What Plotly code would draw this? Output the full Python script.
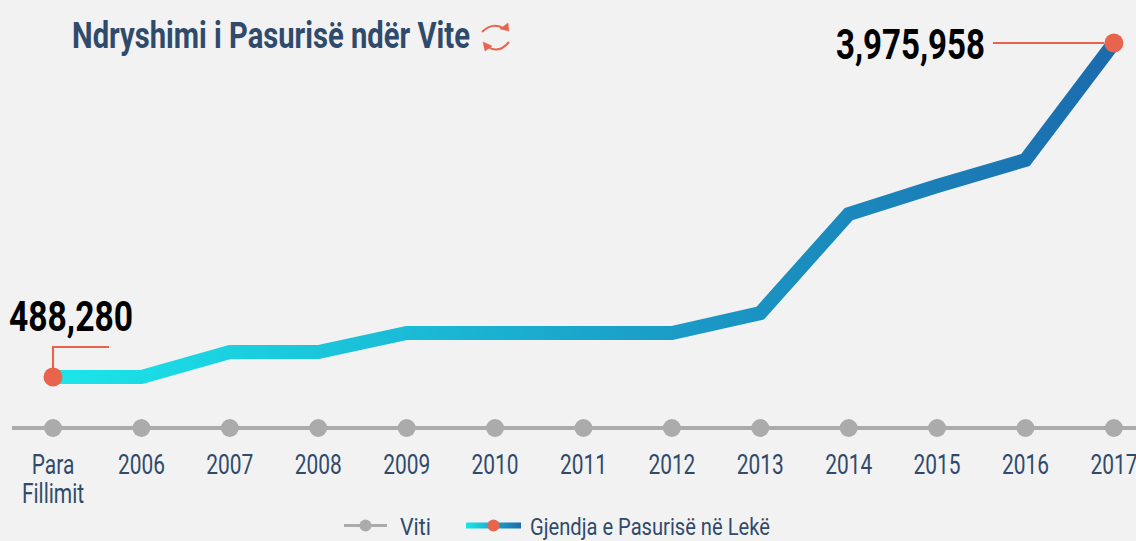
import plotly.graph_objects as go

categories = ["Para<br>Fillimit", "2006", "2007", "2008", "2009", "2010", "2011", "2012", "2013", "2014", "2015", "2016", "2017"]
wealth = [488280, 488280, 749000, 749000, 947700, 947700, 947700, 947700, 1156000, 2190000, 2483000, 2754000, 3975958]
year_line = [0] * len(categories)

W, H = 1136, 541
L, R, T, B = 12, 0, 0, 109
NAVY = "#2F4A6B"
CORAL = "#E8644C"
GREY = "#ABABAB"
BG = "#F2F2F2"
FONT = "Roboto"

def px(x):
    return (x - L) / (W - L - R)

def py(y):
    return 1 - (y - T) / (H - T - B)

idx = list(range(len(categories)))
last = len(categories) - 1

fig = go.Figure()
fig.add_trace(go.Scatter(
    x=idx, y=year_line, yaxis="y2", name="Viti", mode="lines+markers", cliponaxis=False,
    line=dict(color=GREY, width=3), marker=dict(color=GREY, size=18),
))
fig.add_trace(go.Scatter(
    x=idx, y=wealth, name="Gjendja e Pasurisë në Lekë", mode="lines+markers", cliponaxis=False,
    line=dict(color="#1A9CC6", width=14),
    marker=dict(color=[CORAL if i in (0, last) else "rgba(0,0,0,0)" for i in idx],
                size=[19 if i in (0, last) else 0 for i in idx], opacity=1, line=dict(width=0)),
))

def p(x, y):
    return f"{px(x):.5f},{py(y):.5f}"

def leader(path):
    return dict(type="path", xref="paper", yref="paper", path=path, line=dict(color=CORAL, width=2.2), layer="below")

def arrow(path):
    return dict(type="path", xref="paper", yref="paper", path=path, line=dict(color=CORAL, width=2), layer="above")

def head(a, b, c):
    return dict(type="path", xref="paper", yref="paper", path=f"M{p(*a)} L{p(*b)} L{p(*c)} Z",
                fillcolor=CORAL, line=dict(color=CORAL, width=0.5), layer="above")

shapes = [
    leader(f"M{p(53,368)} L{p(53,347)} L{p(109,347)}"),
    leader(f"M{p(993,43)} L{p(1104,43)}"),
    arrow(f"M{p(482,32)} Q{p(492,22)} {p(503,28)}"),
    head((508, 23), (509, 31), (500, 29)),
    arrow(f"M{p(509,42)} Q{p(499,54)} {p(488,47)}"),
    head((483, 42), (485, 51), (492, 46)),
]

annotations = [
    dict(text="<b>Ndryshimi i Pasurisë ndër Vite</b>", xref="paper", yref="paper", x=px(70), y=py(36),
         xanchor="left", yanchor="middle", showarrow=False, font=dict(family=FONT, size=36, color=NAVY)),
    dict(text=f"<b>{wealth[0]:,}</b>", xref="paper", yref="paper", x=px(7), y=py(316),
         xanchor="left", yanchor="middle", showarrow=False, font=dict(family=FONT, size=42, color="#000000")),
    dict(text=f"<b>{wealth[-1]:,}</b>", xref="paper", yref="paper", x=px(834), y=py(45),
         xanchor="left", yanchor="middle", showarrow=False, font=dict(family=FONT, size=42, color="#000000")),
]

fig.update_layout(
    width=W, height=H, margin=dict(l=L, r=R, t=T, b=B, autoexpand=False),
    paper_bgcolor=BG, plot_bgcolor=BG, font=dict(family=FONT, color=NAVY),
    xaxis=dict(type="linear", range=[-0.464, 12.25], tickmode="array", tickvals=idx, ticktext=categories,
               showgrid=False, zeroline=False, showline=False,
               tickfont=dict(family=FONT, size=27, color=NAVY), ticks="", ticklabelstandoff=14,
               ticklabeloverflow="allow"),
    yaxis=dict(range=[-86030, 4424914], visible=False, showgrid=False, zeroline=False),
    yaxis2=dict(range=[-0.00935, 1], overlaying="y", showticklabels=False, ticks="", showgrid=False,
                showline=False, zeroline=True, zerolinecolor=GREY, zerolinewidth=4),
    legend=dict(orientation="h", x=px(558), xanchor="center", y=py(526), yanchor="middle",
                font=dict(family=FONT, size=24, color=NAVY), itemwidth=50, itemclick=False,
                itemsizing="constant", bgcolor="rgba(0,0,0,0)"),
    shapes=shapes, annotations=annotations, hovermode=False,
)

post = """
document.body.style.margin='0';
var gd=document.getElementById('{plot_id}');
var svg=gd.querySelector('.main-svg');
var NS='http://www.w3.org/2000/svg';
function grad(id,x1,x2){
  var g=document.createElementNS(NS,'linearGradient');
  g.setAttribute('id',id);g.setAttribute('gradientUnits','userSpaceOnUse');
  g.setAttribute('x1',x1);g.setAttribute('x2',x2);g.setAttribute('y1',0);g.setAttribute('y2',0);
  [['0','#1BE6EA'],['0.5','#1AA6CC'],['1','#1B6BAD']].forEach(function(s){
    var st=document.createElementNS(NS,'stop');st.setAttribute('offset',s[0]);st.setAttribute('stop-color',s[1]);g.appendChild(st);
  });
  svg.querySelector('defs').appendChild(g);
}
function squeeze(el,sx,mode){
  var b=el.getBBox();
  var c=mode==='c'?b.x+b.width/2:b.x;
  var t=el.getAttribute('transform')||'';
  el.setAttribute('transform',t+' translate('+c+',0) scale('+sx+',1) translate('+(-c)+',0)');
}
function fit(el,w,mode){squeeze(el,w/el.getBBox().width,mode);}
var lines=gd.querySelectorAll('.scatterlayer .trace path.js-line');
lines.forEach(function(l){
  var bb=l.getBBox();
  if(bb.height>10){grad('wealthGrad',bb.x,bb.x+bb.width);l.style.stroke='url(#wealthGrad)';}
});
var ann=gd.querySelectorAll('.annotation-text');
fit(ann[0],398,'l');fit(ann[1],124,'l');fit(ann[2],149,'l');
var ticks=gd.querySelectorAll('.xtick text');
var ratio=47/ticks[1].getBBox().width;
ticks.forEach(function(t){
  var sp=t.querySelectorAll('tspan.line');
  if(sp.length>1){
    sp[1].setAttribute('dy','29');
  }
  squeeze(t,ratio,'c');
});
var lg=gd.querySelector('.legend');
var m=/translate\\(([^,]+),\\s*([^)]+)\\)/.exec(lg.getAttribute('transform'));
lg.setAttribute('transform','translate(0,'+m[2]+')');
var sb=lg.querySelector('.scrollbox');
sb.removeAttribute('clip-path');sb.style.clipPath='none';
var spec=[[344,43,400,31,3],[466,55,530,240,6]];
lg.querySelectorAll('.traces').forEach(function(tr,i){
  var s=spec[i];
  var mm=/translate\\(([^,]+),\\s*([^)]+)\\)/.exec(tr.getAttribute('transform'));
  tr.setAttribute('transform','translate(0,'+mm[2]+')');
  var lp=tr.querySelector('.legendlines path');
  lp.setAttribute('d','M'+s[0]+',0h'+s[1]);
  lp.style.strokeWidth=s[4]+'px';
  if(i==1){grad('legGrad',s[0],s[0]+s[1]);lp.style.stroke='url(#legGrad)';}
  var mk=tr.querySelector('.legendpoints path.scatterpts');
  mk.setAttribute('transform','translate('+(s[0]+s[1]/2)+',0)');
  var tx=tr.querySelector('text.legendtext');
  tx.setAttribute('x',s[2]);
  fit(tx,s[3],'l');
});
"""
fig.write_html("out.html", post_script=post, config={"displayModeBar": False})
